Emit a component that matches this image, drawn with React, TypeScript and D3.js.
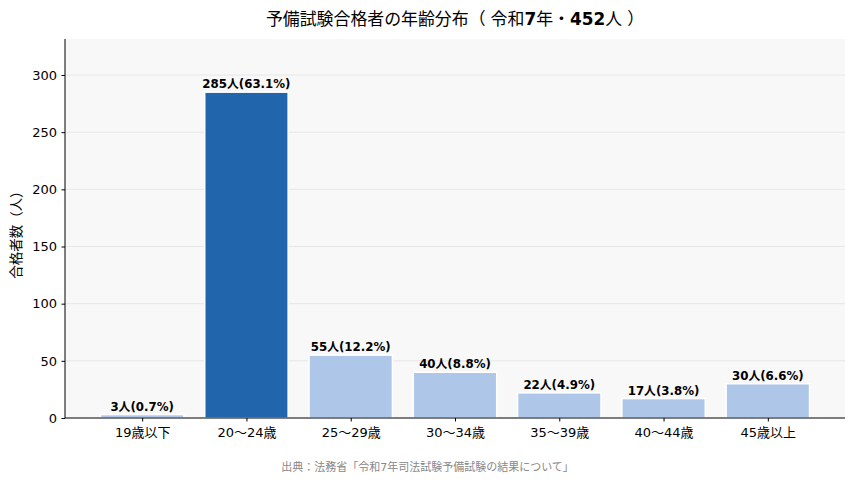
import React, { useEffect, useRef } from "react";
import * as d3 from "d3";

const categories = ["19歳以下", "20〜24歳", "25〜29歳", "30〜34歳", "35〜39歳", "40〜44歳", "45歳以上"];
const counts = [3, 285, 55, 40, 22, 17, 30];
const total = 452;
const highlight = 1;
const yTicks = [0, 50, 100, 150, 200, 250, 300];

const FONT = "'DejaVu Sans', 'Noto Sans CJK JP', sans-serif";

const App = () => {
  const ref = useRef<SVGSVGElement>(null);

  useEffect(() => {
    const width = 855;
    const height = 482;
    const m = { left: 65, right: 10, top: 39, bottom: 64 };
    const svg = d3.select(ref.current);
    svg.selectAll("*").remove();

    const x = d3
      .scaleLinear()
      .domain([-0.74, categories.length - 1 + 0.74])
      .range([m.left, width - m.right]);
    const y = d3
      .scaleLinear()
      .domain([0, 331.5])
      .range([height - m.bottom, m.top]);
    const bw = x(0.8) - x(0);

    // plot background
    svg
      .append("rect")
      .attr("x", m.left)
      .attr("y", m.top)
      .attr("width", width - m.left - m.right)
      .attr("height", height - m.top - m.bottom)
      .attr("fill", "#f8f8f8");

    // grid
    svg
      .append("g")
      .selectAll("line")
      .data(yTicks.slice(1))
      .join("line")
      .attr("x1", m.left)
      .attr("x2", width - m.right)
      .attr("y1", (d) => y(d))
      .attr("y2", (d) => y(d))
      .attr("stroke", "#e2e2e2")
      .attr("stroke-width", 0.8);

    // bars
    svg
      .append("g")
      .selectAll("rect")
      .data(counts)
      .join("rect")
      .attr("x", (d, i) => x(i) - bw / 2)
      .attr("y", (d) => y(d))
      .attr("width", bw)
      .attr("height", (d) => y(0) - y(d))
      .attr("fill", (d, i) => (i === highlight ? "#2166ac" : "#aec7e8"))
      .attr("stroke", "white")
      .attr("stroke-width", 1.5);

    // bar labels
    svg
      .append("g")
      .selectAll("text")
      .data(counts)
      .join("text")
      .attr("x", (d, i) => x(i))
      .attr("y", (d) => y(d) - 4)
      .attr("text-anchor", "middle")
      .attr("font-family", FONT)
      .attr("font-size", 11.8)
      .attr("font-weight", "bold")
      .attr("fill", "#000")
      .text((d) => `${d}人(${((d / total) * 100).toFixed(1)}%)`);

    // axes
    const yAxis = svg
      .append("g")
      .attr("transform", `translate(${m.left},0)`)
      .call(d3.axisLeft(y).tickValues(yTicks).tickSize(3.5).tickPadding(4.5));
    const xAxis = svg
      .append("g")
      .attr("transform", `translate(0,${height - m.bottom})`)
      .call(
        d3
          .axisBottom(x)
          .tickValues(d3.range(categories.length))
          .tickFormat((d) => categories[d as number])
          .tickSize(3.5)
          .tickPadding(6)
      );
    [yAxis, xAxis].forEach((g) => {
      g.select(".domain").attr("stroke", "#000").attr("stroke-width", 1);
      g.selectAll(".tick line").attr("stroke", "#000");
      g.selectAll(".tick text")
        .attr("font-family", FONT)
        .attr("font-size", 13)
        .attr("fill", "#000");
    });
    yAxis.select(".domain").attr("d", `M0,${m.top}V${height - m.bottom}`);
    xAxis.select(".domain").attr("d", `M${m.left},0H${width - m.right}`);

    // y label
    svg
      .append("text")
      .attr("transform", `translate(21,${(m.top + height - m.bottom) / 2 + 3}) rotate(-90)`)
      .attr("text-anchor", "middle")
      .attr("font-family", FONT)
      .attr("font-size", 13.5)
      .attr("fill", "#000")
      .text("合格者数（人）");

    // title: digits bold, a little air inside the full-width parens
    const title = svg
      .append("text")
      .attr("x", (m.left + width - m.right) / 2)
      .attr("y", 25)
      .attr("text-anchor", "middle")
      .attr("font-family", FONT)
      .attr("font-size", 16.9)
      .attr("fill", "#000");
    const parts = "予備試験合格者の年齢分布（令和7年・452人）"
      .split(/(\d+|（|）)/)
      .filter((p) => p !== "");
    let gap = false;
    parts.forEach((p) => {
      const t = title.append("tspan").text(p);
      if (/\d/.test(p)) t.attr("font-weight", "bold");
      if (p === "（") {
        gap = true;
      } else if (p === "）") {
        t.attr("dx", "0.3em");
      } else if (gap) {
        t.attr("dx", "0.3em");
        gap = false;
      }
    });

    // source
    svg
      .append("text")
      .attr("x", width / 2)
      .attr("y", 471)
      .attr("text-anchor", "middle")
      .attr("font-family", FONT)
      .attr("font-size", 11)
      .attr("fill", "#888")
      .text("出典：法務省「令和7年司法試験予備試験の結果について」");
  }, []);

  return (
    <svg
      ref={ref}
      width={855}
      height={482}
      style={{ position: "absolute", left: 0, top: 0, background: "#fff" }}
    />
  );
};

export default App;
